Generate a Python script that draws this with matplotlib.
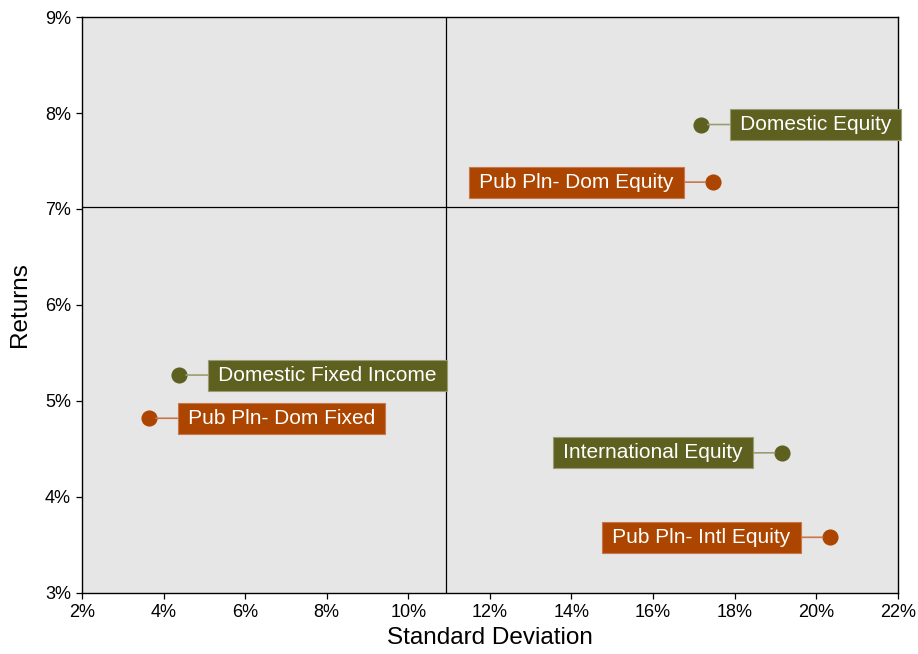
import matplotlib.pyplot as plt
from matplotlib.ticker import FuncFormatter

plt.rcParams['font.family'] = ['Liberation Sans', 'DejaVu Sans']

# risk / return per asset class (percent)
names = ['Domestic Equity', 'Pub Pln- Dom Equity', 'Domestic Fixed Income',
         'Pub Pln- Dom Fixed', 'International Equity', 'Pub Pln- Intl Equity']
std_dev = [17.17, 17.46, 4.38, 3.64, 19.15, 20.33]
returns = [7.88, 7.28, 5.27, 4.82, 4.46, 3.58]
label_side = ['right', 'left', 'right', 'right', 'left', 'left']
group = ['index', 'plan', 'index', 'plan', 'index', 'plan']

x_mid = 10.93
y_mid = 7.02

box_col = {'index': '#5E6020', 'plan': '#AB4500'}
line_col = {'index': '#9C9C72', 'plan': '#C9764A'}

fig = plt.figure(figsize=(9.18, 6.54), dpi=100)
ax = fig.add_axes([0.0893, 0.0933, 0.8887, 0.8807])
ax.set_facecolor('#E6E6E6')

ax.axvline(x_mid, color='black', lw=0.9, zorder=1)
ax.axhline(y_mid, color='black', lw=0.9, zorder=1)

for n, x, y, side, g in zip(names, std_dev, returns, label_side, group):
    ax.scatter([x], [y], s=135, color=box_col[g], zorder=4, linewidths=0)
    dx = 25.2 if side == 'right' else -25.2
    ax.annotate('\u2009' + n + '\u2009', xy=(x, y), xytext=(dx, 0),
                textcoords='offset points',
                ha='left' if side == 'right' else 'right', va='center',
                fontsize=15, color='white', zorder=5, annotation_clip=False,
                bbox=dict(boxstyle='square,pad=0.29', fc=box_col[g],
                          ec=line_col[g], lw=0.8),
                arrowprops=dict(arrowstyle='-', color=line_col[g], lw=1.2,
                                shrinkA=0, shrinkB=5))

ax.set_xlim(2, 22)
ax.set_ylim(3, 9)
ax.set_xticks(range(2, 23, 2))
ax.set_yticks(range(3, 10))
pct = FuncFormatter(lambda v, p: f'{v:.0f}%')
ax.xaxis.set_major_formatter(pct)
ax.yaxis.set_major_formatter(pct)
ax.tick_params(labelsize=13, length=4.5, width=0.9, direction='out')
for s in ax.spines.values():
    s.set_linewidth(1.0)
ax.set_xlabel('Standard Deviation', fontsize=17.5, labelpad=4)
ax.set_ylabel('Returns', fontsize=17.5, labelpad=10)

fig.savefig('out.png', dpi=100)
